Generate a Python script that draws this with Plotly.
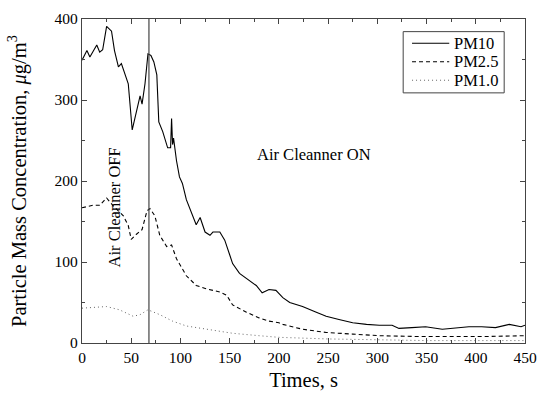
import plotly.graph_objects as go

pm10_t = [0, 5, 8, 15, 18, 21, 25, 30, 33, 37, 40, 44, 47, 51, 55, 59, 61, 64, 67, 70, 73, 76, 78, 82, 87, 90, 91, 92, 93, 94, 96, 99, 102, 106,
          110, 116, 120, 125, 130, 133, 140, 145, 150, 153, 160, 168, 177, 183, 190, 197, 204, 211, 224, 238, 248, 261, 275, 289, 302, 315,
          322, 335, 349, 366, 380, 393, 406, 420, 434, 446, 450]
pm10_v = [349, 361, 353, 368, 359, 362, 391, 385, 361, 341, 345, 329, 320, 263, 285, 305, 295, 320, 357, 355, 347, 331, 273, 261, 241, 241, 277, 245, 253, 243, 225, 205, 197, 177,
          165, 146, 155, 137, 133, 137, 137, 127, 109, 98, 86, 79, 71, 62, 66, 65, 56, 50, 45, 38, 33, 29, 25, 23, 22, 22,
          18, 19, 20, 17, 19, 20, 20, 19, 23, 20, 22]

pm25_t = [0, 11, 18, 25, 32, 42, 47, 50, 55, 61, 66, 69, 74, 79, 86, 91, 96, 106, 116, 126, 140, 147, 153, 167, 180, 190, 200, 204, 224, 248,
          275, 302, 342, 376, 410, 450]
pm25_v = [167, 170, 170, 179, 169, 157, 145, 128, 134, 140, 163, 166, 157, 133, 119, 121, 104, 83, 71, 67, 63, 59, 47, 38, 31, 27, 25, 23, 17, 13,
          11, 9, 8, 8, 8, 9]

pm1_t = [0, 25, 38, 52, 59, 67, 79, 92, 106, 126, 153, 180, 200, 250, 300, 350, 400, 450]
pm1_v = [43, 45, 41, 33, 35, 41, 35, 27, 21, 17, 12, 9, 7, 5, 4, 3, 3, 3]

series_names = ["PM10", "PM2.5", "PM1.0"]
switch_time = 68

font_family = "Liberation Serif"
styles = [dict(color="black", width=1.1, dash="solid"),
          dict(color="black", width=1.1, dash="4px,3px"),
          dict(color="#666666", width=1, dash="1px,3px")]

fig = go.Figure()
for name, t, v, st in zip(series_names, [pm10_t, pm25_t, pm1_t], [pm10_v, pm25_v, pm1_v], styles):
    fig.add_trace(go.Scatter(x=t, y=v, mode="lines", name=name, line=st, showlegend=False))

fig.add_shape(type="line", xref="x", yref="paper", x0=switch_time, x1=switch_time, y0=0, y1=1,
              line=dict(color="#444444", width=1.2))

fig.add_annotation(x=236, y=233, text="Air Cleanner ON", showarrow=False,
                   font=dict(family=font_family, size=16.5, color="black"))
fig.add_annotation(x=33, y=168, text="Air Cleanner OFF", showarrow=False, textangle=-90,
                   font=dict(family=font_family, size=16.5, color="black"))

# legend box (drawn to match the compact row spacing of the original)
fig.add_shape(type="rect", xref="paper", yref="paper", x0=0.725, x1=0.953, y0=0.772, y1=0.961,
              line=dict(color="#444444", width=1), fillcolor="white", layer="above")
row_y = [0.925, 0.868, 0.811]
for name, st, ry in zip(series_names, styles, row_y):
    fig.add_shape(type="line", xref="paper", yref="paper", x0=0.745, x1=0.829, y0=ry, y1=ry,
                  line=st, layer="above")
    fig.add_annotation(xref="paper", yref="paper", x=0.836, y=ry, text=name, showarrow=False,
                       xanchor="left", yanchor="middle",
                       font=dict(family=font_family, size=16.5, color="black"))

axis_common = dict(showline=True, linecolor="#444444", linewidth=1.2, mirror="allticks",
                   ticks="inside", ticklen=5, tickcolor="#444444", showgrid=False, zeroline=False,
                   tickfont=dict(family=font_family, size=15.5, color="black"))

fig.update_xaxes(range=[0, 450], dtick=50, tick0=0,
                 minor=dict(ticks="inside", dtick=25, ticklen=3, tickcolor="#444444"),
                 title=dict(text="Times, s", font=dict(family=font_family, size=20.5, color="black"), standoff=7),
                 **axis_common)
fig.update_yaxes(range=[0, 400], dtick=100, tick0=0,
                 minor=dict(ticks="inside", dtick=50, ticklen=3, tickcolor="#444444"),
                 title=dict(text="Particle Mass Concentration, <i>μ</i>g/m<sup>3</sup>",
                            font=dict(family=font_family, size=20.5, color="black"), standoff=22),
                 **axis_common)

fig.update_layout(
    width=547, height=397,
    margin=dict(l=82, r=21, t=10, b=53),
    plot_bgcolor="white", paper_bgcolor="white",
    showlegend=False,
)

fig.write_html("out.html")
